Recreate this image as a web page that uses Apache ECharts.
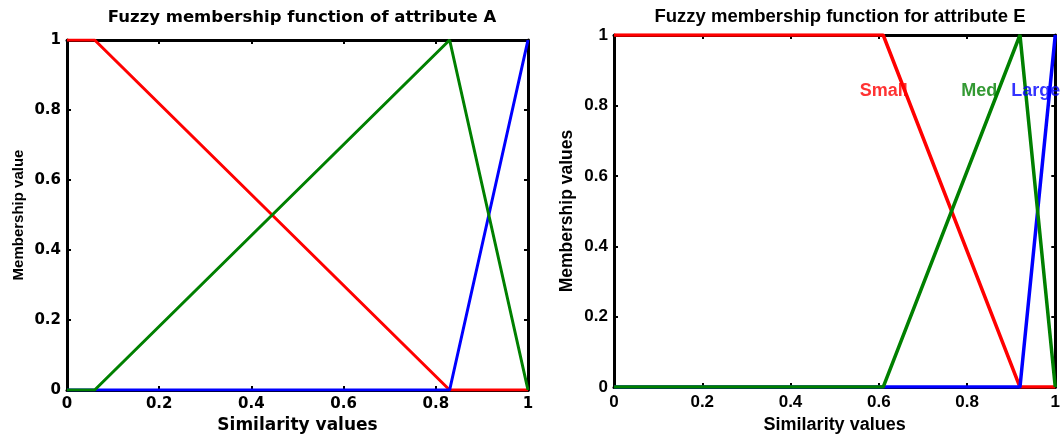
<!DOCTYPE html>
<html>
<head>
<meta charset="utf-8">
<script src="https://cdn.jsdelivr.net/npm/echarts@6/dist/echarts.min.js"></script>
<style>
  html, body { margin: 0; padding: 0; background: #fff; }
  #chart { width: 1063px; height: 439px; }
</style>
</head>
<body>
<div id="chart"></div>
<script>
// attribute A (left panel): [similarity, membership]
const smallA = [[0, 1], [0.06, 1], [0.83, 0], [1, 0]]
const medA = [[0, 0], [0.06, 0], [0.83, 1], [1, 0]]
const largeA = [[0, 0], [0.83, 0], [1, 1]]

// attribute E (right panel)
const smallE = [[0, 1], [0.61, 1], [0.92, 0], [1, 0]]
const medE = [[0, 0], [0.61, 0], [0.92, 1], [1, 0]]
const largeE = [[0, 0], [0.92, 0], [1, 1]]

// text labels on the right panel: [text, x, y]
const labelsE = [['Small', 0.557, 0.84], ['Med', 0.787, 0.84], ['Large', 0.9, 0.84]]

const RED = '#ff0000'
const GREEN = '#008000'
const BLUE = '#0000ff'
const SANS = 'Liberation Sans, Arial, sans-serif'
const WIDE = 'DejaVu Sans, sans-serif' // left panel was stretched sideways

const chart = echarts.init(document.getElementById('chart'))

// builds the 4 axes (box) for one panel
function boxAxes(grid, cfg) {
  const base = {
    gridIndex: grid,
    type: 'value',
    min: 0,
    max: 1,
    interval: 0.2,
    splitLine: { show: false },
    axisLine: { show: true, onZero: false, lineStyle: { color: '#000', width: 3 } },
    axisTick: { show: true, inside: true, length: 4, lineStyle: { color: '#000', width: 2 } },
  }
  const lbl = { show: true, color: '#000', fontWeight: 'bold', fontSize: cfg.tick, fontFamily: cfg.font }
  const x = [
    Object.assign({}, base, {
      position: 'bottom',
      axisLabel: Object.assign({ margin: 7 }, lbl),
      name: 'Similarity values',
      nameLocation: 'middle',
      nameGap: 24,
      nameTextStyle: { color: '#000', fontWeight: 'bold', fontSize: cfg.xName, fontFamily: cfg.font },
    }),
    Object.assign({}, base, { position: 'top', axisLabel: { show: false } }),
  ]
  const y = [
    Object.assign({}, base, {
      position: 'left',
      axisLabel: Object.assign({ margin: 6 }, lbl),
      name: cfg.yName,
      nameLocation: 'middle',
      nameGap: cfg.yGap,
      nameTextStyle: { color: '#000', fontWeight: 'bold', fontSize: cfg.yNameSize, fontFamily: cfg.yFont },
    }),
    Object.assign({}, base, { position: 'right', axisLabel: { show: false } }),
  ]
  return { x, y }
}

const axA = boxAxes(0, { font: WIDE, tick: 15, xName: 17, yName: 'Membership value', yNameSize: 15, yFont: SANS, yGap: 41 })
const axE = boxAxes(1, { font: SANS, tick: 17, xName: 18, yName: 'Membership values', yNameSize: 17.5, yFont: SANS, yGap: 38 })

function line(data, color, xi, yi, w) {
  return {
    type: 'line',
    data: data,
    xAxisIndex: xi,
    yAxisIndex: yi,
    symbol: 'none',
    animation: false,
    lineStyle: { color: color, width: w },
    itemStyle: { color: color },
  }
}

const labelColors = [RED, GREEN, BLUE]

const option = {
  animation: false,
  title: [
    {
      text: 'Fuzzy membership function of attribute A',
      left: 297,
      top: 4,
      textAlign: 'center',
      textStyle: { fontSize: 16.5, fontWeight: 'bold', color: '#000', fontFamily: WIDE },
    },
    {
      text: 'Fuzzy membership function for attribute E',
      left: 835,
      top: 2,
      textAlign: 'center',
      textStyle: { fontSize: 18.5, fontWeight: 'bold', color: '#000', fontFamily: SANS },
    },
  ],
  grid: [
    { left: 67, right: 535, top: 40, bottom: 49 },
    { left: 614, right: 6, top: 35, bottom: 48 },
  ],
  xAxis: axA.x.concat(axE.x),
  yAxis: axA.y.concat(axE.y),
  series: [
    line(smallA, RED, 0, 0, 3),
    line(largeA, BLUE, 0, 0, 3),
    line(medA, GREEN, 0, 0, 3),
    line(smallE, RED, 2, 2, 3.5),
    line(largeE, BLUE, 2, 2, 3.5),
    line(medE, GREEN, 2, 2, 3.5),
    {
      type: 'scatter',
      xAxisIndex: 2,
      yAxisIndex: 2,
      symbolSize: 0,
      z: 5,
      data: labelsE.map((d, i) => ({
        value: [d[1], d[2]],
        label: {
          show: true,
          formatter: d[0],
          position: 'right',
          distance: 0,
          color: labelColors[i],
          fontSize: 18,
          fontWeight: 'bold',
          fontFamily: SANS,
        },
      })),
    },
  ],
}

chart.setOption(option)
</script>
</body>
</html>
